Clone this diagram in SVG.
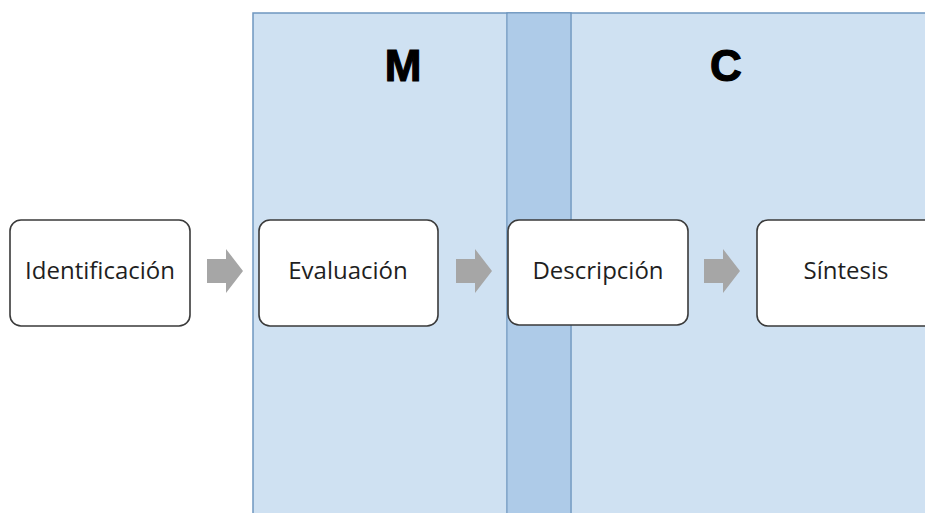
<svg xmlns="http://www.w3.org/2000/svg" width="925" height="513" viewBox="0 0 925 513">
  <style>
    .panel { fill: #cfe1f2; stroke: #6f97c0; stroke-width: 1.5; }
    .overlap { fill: #aecbe8; }
    .edge { stroke: #6f97c0; stroke-width: 1.5; fill: none; }
    .box { fill: #ffffff; stroke: #3a3a3a; stroke-width: 1.6; }
    .lbl { font-family: "Open Sans", "Noto Sans", sans-serif; font-size: 24px; fill: #1f1f1f; text-anchor: middle; }
    .title { font-family: "Liberation Sans", Arial, sans-serif; font-size: 44px; font-weight: bold; fill: #000; stroke: #000; stroke-width: 1.2; text-anchor: middle; }
    .arrow { fill: #a6a6a6; }
  </style>
  <defs>
    <path id="blk" d="M0,-12 L19,-12 L19,-22 L36,0 L19,22 L19,12 L0,12 Z"/>
  </defs>
  <rect width="925" height="513" fill="#ffffff"/>
  <g id="panel-M">
    <rect class="panel" x="253" y="13" width="318" height="520"/>
    <text class="title" x="403" y="81">M</text>
  </g>
  <g id="panel-C">
    <rect class="panel" x="507" y="13" width="440" height="520"/>
    <rect class="overlap" x="507.75" y="13.75" width="62.5" height="520"/>
    <path class="edge" d="M571,13 V533"/>
    <text class="title" x="726" y="81">C</text>
  </g>
  <g id="connectors">
    <use href="#blk" class="arrow" x="207" y="271"/>
    <use href="#blk" class="arrow" x="456" y="271"/>
    <use href="#blk" class="arrow" x="704" y="271"/>
  </g>
  <g id="node-identificacion">
    <rect class="box" x="10" y="220" width="180" height="106" rx="11"/>
    <text class="lbl" x="100" y="279">Identificación</text>
  </g>
  <g id="node-evaluacion">
    <rect class="box" x="259" y="220" width="179" height="106" rx="11"/>
    <text class="lbl" x="348" y="279">Evaluación</text>
  </g>
  <g id="node-descripcion">
    <rect class="box" x="508" y="220" width="180" height="105" rx="11"/>
    <text class="lbl" x="598" y="279">Descripción</text>
  </g>
  <g id="node-sintesis">
    <rect class="box" x="757" y="220" width="180" height="106" rx="11"/>
    <text class="lbl" x="846" y="279">Síntesis</text>
  </g>
</svg>
